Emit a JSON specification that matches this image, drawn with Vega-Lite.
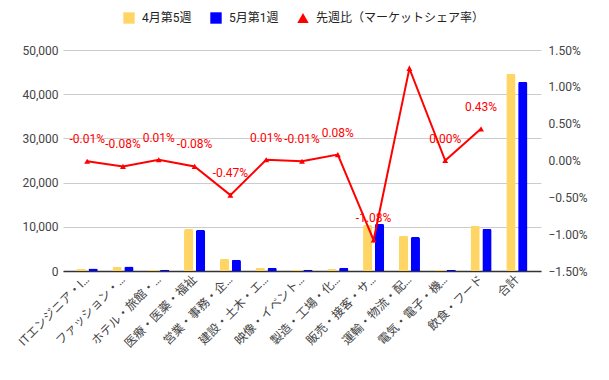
{
  "$schema": "https://vega.github.io/schema/vega-lite/v6.json",
  "width": 478,
  "height": 221,
  "autosize": {"type": "none"},
  "padding": {"left": 63, "top": 50, "right": 68, "bottom": 109},
  "background": "white",
  "config": {
    "font": "Roboto, Noto Sans CJK JP, sans-serif",
    "view": {"stroke": null},
    "axis": {"labelFont": "Roboto, Noto Sans CJK JP, sans-serif", "labelFontSize": 12, "labelColor": "#444444", "ticks": false, "domain": false, "title": null},
    "legend": {"labelLimit": 300}
  },
  "datasets": {
    "bars": [
      {"cat": "ITエンジニア・I…", "series": "4月第5週", "value": 500},
      {"cat": "ITエンジニア・I…", "series": "5月第1週", "value": 550},
      {"cat": "ファッション・…", "series": "4月第5週", "value": 970},
      {"cat": "ファッション・…", "series": "5月第1週", "value": 1000},
      {"cat": "ホテル・旅館・…", "series": "4月第5週", "value": 300},
      {"cat": "ホテル・旅館・…", "series": "5月第1週", "value": 300},
      {"cat": "医療・医薬・福祉", "series": "4月第5週", "value": 9500},
      {"cat": "医療・医薬・福祉", "series": "5月第1週", "value": 9300},
      {"cat": "営業・事務・企…", "series": "4月第5週", "value": 2780},
      {"cat": "営業・事務・企…", "series": "5月第1週", "value": 2550},
      {"cat": "建設・土木・エ…", "series": "4月第5週", "value": 750},
      {"cat": "建設・土木・エ…", "series": "5月第1週", "value": 750},
      {"cat": "映像・イベント…", "series": "4月第5週", "value": 300},
      {"cat": "映像・イベント…", "series": "5月第1週", "value": 300},
      {"cat": "製造・工場・化…", "series": "4月第5週", "value": 500},
      {"cat": "製造・工場・化…", "series": "5月第1週", "value": 750},
      {"cat": "販売・接客・サ…", "series": "4月第5週", "value": 10400},
      {"cat": "販売・接客・サ…", "series": "5月第1週", "value": 10700},
      {"cat": "運輸・物流・配…", "series": "4月第5週", "value": 8000},
      {"cat": "運輸・物流・配…", "series": "5月第1週", "value": 7700},
      {"cat": "電気・電子・機…", "series": "4月第5週", "value": 300},
      {"cat": "電気・電子・機…", "series": "5月第1週", "value": 300},
      {"cat": "飲食・フード", "series": "4月第5週", "value": 10250},
      {"cat": "飲食・フード", "series": "5月第1週", "value": 9570},
      {"cat": "合計", "series": "4月第5週", "value": 44600},
      {"cat": "合計", "series": "5月第1週", "value": 42800}
    ],
    "line": [
      {"cat": "ITエンジニア・I…", "series": "先週比（マーケットシェア率）", "rate": -0.0001, "label": "-0.01%"},
      {"cat": "ファッション・…", "series": "先週比（マーケットシェア率）", "rate": -0.0008, "label": "-0.08%"},
      {"cat": "ホテル・旅館・…", "series": "先週比（マーケットシェア率）", "rate": 0.0001, "label": "0.01%"},
      {"cat": "医療・医薬・福祉", "series": "先週比（マーケットシェア率）", "rate": -0.0008, "label": "-0.08%"},
      {"cat": "営業・事務・企…", "series": "先週比（マーケットシェア率）", "rate": -0.0047, "label": "-0.47%"},
      {"cat": "建設・土木・エ…", "series": "先週比（マーケットシェア率）", "rate": 0.0001, "label": "0.01%"},
      {"cat": "映像・イベント…", "series": "先週比（マーケットシェア率）", "rate": -0.0001, "label": "-0.01%"},
      {"cat": "製造・工場・化…", "series": "先週比（マーケットシェア率）", "rate": 0.0008, "label": "0.08%"},
      {"cat": "販売・接客・サ…", "series": "先週比（マーケットシェア率）", "rate": -0.0108, "label": "-1.08%"},
      {"cat": "運輸・物流・配…", "series": "先週比（マーケットシェア率）", "rate": 0.0125, "label": ""},
      {"cat": "電気・電子・機…", "series": "先週比（マーケットシェア率）", "rate": 0.0, "label": "0.00%"},
      {"cat": "飲食・フード", "series": "先週比（マーケットシェア率）", "rate": 0.0043, "label": "0.43%"}
    ]
  },
  "encoding": {
    "x": {
      "field": "cat",
      "type": "nominal",
      "scale": {
        "domain": ["ITエンジニア・I…", "ファッション・…", "ホテル・旅館・…", "医療・医薬・福祉", "営業・事務・企…", "建設・土木・エ…", "映像・イベント…", "製造・工場・化…", "販売・接客・サ…", "運輸・物流・配…", "電気・電子・機…", "飲食・フード", "合計"],
        "paddingInner": 0.41,
        "paddingOuter": 0.38
      },
      "axis": {"labelAngle": -45, "labelAlign": "right", "labelBaseline": "middle", "labelPadding": 6, "domain": true, "domainColor": "#333333", "domainWidth": 1.5, "labelColor": "#444444"}
    }
  },
  "layer": [
    {
      "data": {"name": "bars"},
      "mark": {"type": "bar", "cornerRadiusTopLeft": 2, "cornerRadiusTopRight": 2},
      "encoding": {
        "xOffset": {"field": "series", "type": "nominal", "scale": {"domain": ["4月第5週", "5月第1週"], "paddingInner": 0.22}},
        "y": {
          "field": "value",
          "type": "quantitative",
          "scale": {"domain": [0, 50000], "nice": false},
          "axis": {"values": [0, 10000, 20000, 30000, 40000, 50000], "format": ",d", "grid": true, "gridColor": "#cccccc", "labelPadding": 5, "orient": "left"}
        },
        "color": {
          "field": "series",
          "type": "nominal",
          "scale": {"domain": ["4月第5週", "5月第1週", "先週比（マーケットシェア率）"], "range": ["#FFD666", "#0000FF", "#FF0000"]},
          "legend": {"title": null, "orient": "none", "direction": "horizontal", "legendX": 60, "legendY": -38, "labelFontSize": 12, "labelColor": "#222222", "symbolSize": 130, "columnPadding": 18, "labelOffset": 7, "symbolStrokeWidth": 0, "labelLimit": 300}
        }
      }
    },
    {
      "data": {"name": "line"},
      "encoding": {
        "y": {
          "field": "rate",
          "type": "quantitative",
          "scale": {"domain": [-0.015, 0.015], "nice": false},
          "axis": {"orient": "right", "values": [-0.015, -0.01, -0.005, 0, 0.005, 0.01, 0.015], "format": ".2%", "grid": false, "labelPadding": 7}
        }
      },
      "layer": [
        {
          "mark": {"type": "line", "strokeWidth": 2, "color": "#FF0000"},
          "encoding": {}
        },
        {
          "mark": {"type": "point", "filled": true, "size": 35, "opacity": 1},
          "encoding": {
            "color": {"field": "series", "type": "nominal"},
            "shape": {
              "field": "series",
              "type": "nominal",
              "scale": {"domain": ["4月第5週", "5月第1週", "先週比（マーケットシェア率）"], "range": ["square", "square", "triangle-up"]},
              "legend": {"title": null, "orient": "none", "direction": "horizontal", "legendX": 60, "legendY": -38, "labelFontSize": 12, "labelColor": "#222222", "symbolSize": 130, "columnPadding": 18, "labelOffset": 7, "symbolStrokeWidth": 0, "labelLimit": 300}
            }
          }
        },
        {
          "mark": {"type": "text", "dy": -22, "fontSize": 12, "color": "#FF0000", "font": "Roboto, sans-serif"},
          "encoding": {"text": {"field": "label", "type": "nominal"}}
        }
      ]
    }
  ],
  "resolve": {"scale": {"y": "independent"}}
}
